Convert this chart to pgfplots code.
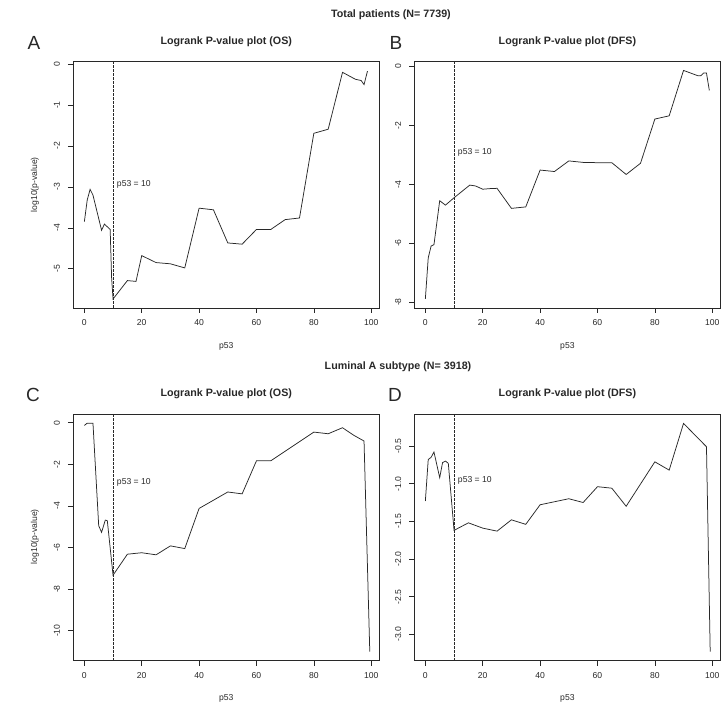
\documentclass[border=0pt]{standalone}
\usepackage{pgfplots}
\pgfplotsset{compat=1.18}
\usepackage{fontspec}
\setmainfont{Liberation Sans}
\definecolor{ink}{RGB}{40,40,40}
\pgfplotsset{
 rplot/.style={
  scale only axis, width=306.7pt, height=246.7pt,
  xmin=-3.96, xmax=102.96,
  axis line style={ink, line width=0.6pt},
  tick align=outside, tick style={ink, line width=0.6pt},
  major tick length=5pt,
  xtick={0,20,40,60,80,100}, xticklabels={0,20,40,60,80,100},
  xtick pos=bottom, ytick pos=left,
  tick label style={font=\fontsize{8.6}{10}\selectfont, text=ink, inner sep=0pt},
  xticklabel style={anchor=north},
  yticklabel style={rotate=90, anchor=base},
  xticklabel shift=6.5pt, yticklabel shift=8pt,
 },
 dline/.style={ink, line width=0.75pt, mark=none},
 vline/.style={ink, line width=0.6pt, mark=none, dash pattern=on 2.5pt off 1.5pt},
}
\newcommand{\lab}{\fontsize{8.6}{10}\selectfont}
\newcommand{\ttl}{\fontsize{10.7}{12}\selectfont\bfseries}
\begin{document}
\begin{tikzpicture}
\useasboundingbox (0,0) rectangle (728pt,706pt);
% ---------- A ----------
\begin{axis}[rplot, at={(73pt,398pt)}, anchor=south west,
  ymin=-5.96, ymax=0.07,
  ytick={-5,-4,-3,-2,-1,0}, yticklabels={-5,-4,-3,-2,-1,0}]
\addplot[dline] coordinates {(0,-3.85) (1,-3.32) (2,-3.06) (3,-3.2) (6,-4.06) (7,-3.91) (9,-4.04) (9.5,-5.22) (10,-5.74) (15,-5.29) (18,-5.31) (20,-4.68) (25,-4.85) (30,-4.88) (35,-4.98) (40,-3.52) (45,-3.56) (50,-4.37) (55,-4.40) (60,-4.04) (65,-4.04) (70,-3.80) (75,-3.76) (80,-1.69) (85,-1.59) (90,-0.20) (94.5,-0.37) (96.5,-0.40) (97.5,-0.50) (98.7,-0.17)};
\addplot[vline] coordinates {(10,-5.96) (10,0.07)};
\node[anchor=west, inner sep=0pt, font=\lab, text=ink] at (axis cs:11.3,-2.93) {p53 = 10};
\end{axis}
% ---------- B ----------
\begin{axis}[rplot, at={(414pt,398pt)}, anchor=south west,
  ymin=-8.2, ymax=0.17,
  ytick={-8,-6,-4,-2,0}, yticklabels={-8,-6,-4,-2,0}]
\addplot[dline] coordinates {(0,-7.89) (1,-6.5) (2,-6.1) (3,-6.05) (5,-4.56) (7,-4.71) (10,-4.46) (15.5,-4.03) (17.5,-4.06) (20,-4.17) (22.5,-4.15) (25,-4.14) (30,-4.82) (35,-4.77) (40,-3.52) (45,-3.57) (50,-3.21) (55,-3.26) (60,-3.27) (65,-3.27) (70,-3.67) (75,-3.29) (80,-1.79) (85,-1.68) (90,-0.14) (95,-0.32) (96,-0.32) (97,-0.23) (98,-0.23) (99,-0.82)};
\addplot[vline] coordinates {(10,-8.2) (10,0.17)};
\node[anchor=west, inner sep=0pt, font=\lab, text=ink] at (axis cs:11.3,-2.93) {p53 = 10};
\end{axis}
% ---------- C ----------
\begin{axis}[rplot, at={(73pt,45.3pt)}, anchor=south west,
  ymin=-11.44, ymax=0.42,
  ytick={-10,-8,-6,-4,-2,0}, yticklabels={-10,-8,-6,-4,-2,0}]
\addplot[dline] coordinates {(0,-0.13) (1,-0.02) (3,-0.02) (5,-4.95) (6,-5.27) (7.3,-4.68) (8,-4.71) (10,-7.33) (15,-6.32) (20,-6.25) (25,-6.35) (30,-5.92) (35,-6.05) (40,-4.12) (50,-3.33) (55,-3.42) (60,-1.83) (65,-1.83) (80,-0.45) (85,-0.53) (90,-0.24) (94,-0.61) (97.5,-0.88) (99.5,-11.0)};
\addplot[vline] coordinates {(10,-11.44) (10,0.42)};
\node[anchor=west, inner sep=0pt, font=\lab, text=ink] at (axis cs:11.3,-2.86) {p53 = 10};
\end{axis}
% ---------- D ----------
\begin{axis}[rplot, at={(414pt,45.3pt)}, anchor=south west,
  ymin=-3.35, ymax=-0.075,
  ytick={-3,-2.5,-2,-1.5,-1,-0.5}, yticklabels={-3.0,-2.5,-2.0,-1.5,-1.0,-0.5}]
\addplot[dline] coordinates {(0,-1.23) (1,-0.68) (2,-0.65) (3,-0.58) (5,-0.92) (6,-0.72) (7,-0.70) (8,-0.73) (10,-1.62) (15,-1.52) (20,-1.59) (25,-1.63) (30,-1.48) (35,-1.54) (40,-1.28) (50,-1.20) (55,-1.25) (60,-1.04) (65,-1.06) (70,-1.30) (80,-0.71) (85,-0.82) (90,-0.20) (98,-0.51) (99.3,-3.23)};
\addplot[vline] coordinates {(10,-3.35) (10,-0.075)};
\node[anchor=west, inner sep=0pt, font=\lab, text=ink] at (axis cs:11.3,-0.95) {p53 = 10};
\end{axis}
% ---------- texts ----------
\node[font=\ttl, text=ink] at (391pt,691pt) {Total patients (N= 7739)};
\node[font=\ttl, text=ink] at (398pt,339pt) {Luminal A subtype (N= 3918)};
\node[font=\ttl, text=ink] at (226.3pt,664pt) {Logrank P-value plot (OS)};
\node[font=\ttl, text=ink] at (567.4pt,664pt) {Logrank P-value plot (DFS)};
\node[font=\ttl, text=ink] at (226.3pt,312pt) {Logrank P-value plot (OS)};
\node[font=\ttl, text=ink] at (567.4pt,312pt) {Logrank P-value plot (DFS)};
\node[font=\fontsize{19}{22}\selectfont, text=ink] at (34pt,663pt) {A};
\node[font=\fontsize{19}{22}\selectfont, text=ink] at (396pt,663pt) {B};
\node[font=\fontsize{19}{22}\selectfont, text=ink] at (33pt,311pt) {C};
\node[font=\fontsize{19}{22}\selectfont, text=ink] at (395pt,311pt) {D};
\node[font=\lab, text=ink] at (226.3pt,360pt) {p53};
\node[font=\lab, text=ink] at (567.4pt,360pt) {p53};
\node[font=\lab, text=ink] at (226.3pt,8pt) {p53};
\node[font=\lab, text=ink] at (567.4pt,8pt) {p53};
\node[font=\lab, text=ink, rotate=90] at (35pt,521.3pt) {log10(p-value)};
\node[font=\lab, text=ink, rotate=90] at (35pt,169.3pt) {log10(p-value)};
\end{tikzpicture}
\end{document}
